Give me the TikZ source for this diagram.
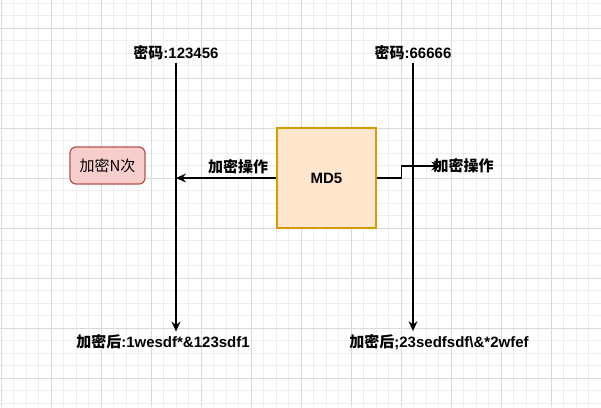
\documentclass[tikz,border=0pt]{standalone}
\usepackage{fontspec}
\setmainfont{Liberation Sans}
\newfontfamily\cjk{Noto Sans CJK SC}
\usetikzlibrary{arrows.meta,positioning}
\newcommand{\zh}[1]{{\cjk #1}}
\definecolor{GridMinor}{HTML}{EEEEEE}
\definecolor{GridMajor}{HTML}{DADADA}
\definecolor{HashFill}{HTML}{FFE6CC}
\definecolor{HashDraw}{HTML}{D79B00}
\definecolor{NoteFill}{HTML}{F8CECC}
\definecolor{NoteDraw}{HTML}{B85450}

\tikzset{
  txt/.style={font=\fontsize{15}{18}\selectfont\bfseries, inner sep=3pt},
  flow/.style={line width=1.25pt, -{Stealth[length=10pt,width=9pt,inset=3.5pt]}},
  hashbox/.style={draw=HashDraw, fill=HashFill, line width=1.25pt,
    minimum width=99pt, minimum height=100pt, font=\fontsize{15}{18}\selectfont\bfseries},
  notebox/.style={draw=NoteDraw, fill=NoteFill, rounded corners=6pt, line width=1.25pt,
    minimum width=75pt, minimum height=37pt, font=\fontsize{15}{18}\selectfont}
}

\begin{document}
\begin{tikzpicture}[x=1pt,y=-1pt]
\useasboundingbox (0,0) rectangle (601,407);
\fill[white] (0,0) rectangle (601,407);

% grid
\foreach \i in {0,...,47} \draw[GridMinor,line width=1pt] (1+12.5*\i,0) -- (1+12.5*\i,407);
\foreach \j in {0,...,32} \draw[GridMinor,line width=1pt] (0,3+12.5*\j) -- (601,3+12.5*\j);
\foreach \i in {0,...,12} \draw[GridMajor,line width=1pt] (1+50*\i,0) -- (1+50*\i,407);
\foreach \j in {0,...,7} \draw[GridMajor,line width=1pt] (0,28+50*\j) -- (601,28+50*\j);

\node[txt] (pwdA) at (176,53) {\zh{密码}:123456};
\node[txt] (pwdB) at (413,53) {\zh{密码}:66666};
\node[txt] (resA) at (163,342) {\zh{加密后}:1wesdf*\&123sdf1};
\node[txt] (resB) at (439,342) {\zh{加密后};23sedfsdf\textbackslash\&*2wfef};

\node[hashbox] (md5) at (326.5,178) {MD5};
\node[notebox] (loop) at (107.5,165.5) {\zh{加密N次}};
\node[txt,inner sep=0pt] (opB) at (463.5,166) {\zh{加密操作}};

\draw[flow] (pwdA.south) -- (pwdA.south |- resA.north);
\draw[flow] (pwdB.south) -- (pwdB.south |- resB.north);
\draw[flow] (md5.west) -- (md5.west -| pwdA.south)
  node[txt,pos=0.38,above] {\zh{加密操作}};
\draw[flow] (md5.east) -- ++(25,0) |- ([xshift=8pt]opB.west);

\end{tikzpicture}
\end{document}
